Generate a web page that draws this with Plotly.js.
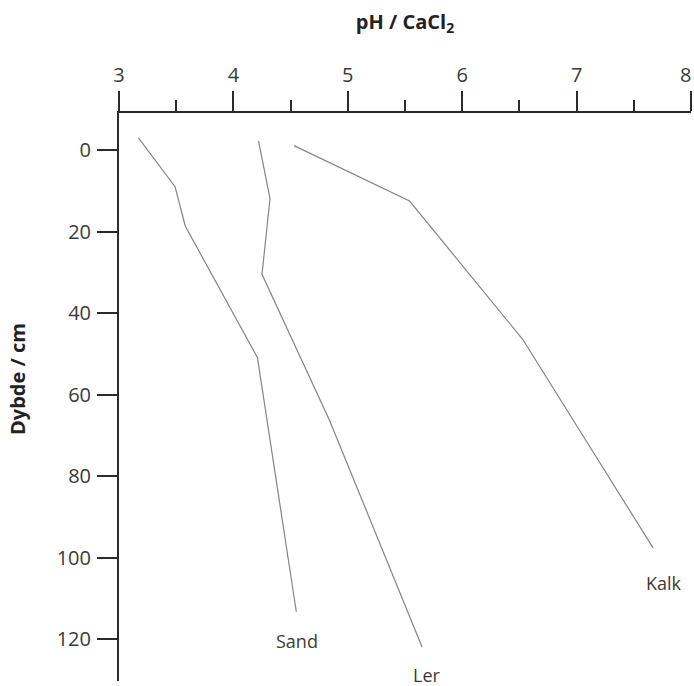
<!DOCTYPE html>
<html>
<head>
<meta charset="utf-8">
<script src="https://cdn.plot.ly/plotly-3.0.1.min.js"></script>
<style>html,body{margin:0;padding:0;background:#fff;}#chart{width:694px;height:686px;}</style>
</head>
<body>
<div id="chart"></div>
<script>
// Soil profiles: pH (CaCl2) versus depth (cm)
const sandPH    = [3.17, 3.49, 3.58, 4.21, 4.55];
const sandDepth = [-3.0, 9.0, 18.7, 50.9, 113.3];
const lerPH     = [4.22, 4.32, 4.25, 4.84, 5.65];
const lerDepth  = [-2.2, 11.9, 30.5, 66.3, 122.0];
const kalkPH    = [4.53, 5.54, 6.53, 7.67];
const kalkDepth = [-1.1, 12.5, 46.5, 97.7];
const seriesNames = ["Sand", "Ler", "Kalk"];
const labelPH    = [4.555, 5.69, 7.765];
const labelDepth = [120.5, 128.8, 106.3];
const xTicks = [3, 4, 5, 6, 7, 8];
const yTicks = [0, 20, 40, 60, 80, 100, 120];

const lineStyle = {color: '#858585', width: 1.2};
const data = [
  {x: sandPH, y: sandDepth, name: seriesNames[0], mode: 'lines', line: lineStyle},
  {x: lerPH, y: lerDepth, name: seriesNames[1], mode: 'lines', line: lineStyle},
  {x: kalkPH, y: kalkDepth, name: seriesNames[2], mode: 'lines', line: lineStyle}
];

const axisColor = '#2b2b2b';
const fam = '"Open Sans", "Noto Sans", sans-serif';
const tickFont = {family: fam, size: 20, color: '#3a3a3a'};

const annotations = seriesNames.map((n, i) => ({
  x: labelPH[i], y: labelDepth[i], xref: 'x', yref: 'y', text: n,
  showarrow: false, xanchor: 'center', yanchor: 'middle',
  font: {family: fam, size: 18, color: '#3a3a3a'}
}));
annotations.push({
  x: (18 - 119) / 572, y: 1 - (379 - 113) / 568, xref: 'paper', yref: 'paper',
  text: '<b>Dybde / cm</b>',
  showarrow: false, textangle: -90, xanchor: 'center', yanchor: 'middle',
  font: {family: fam, size: 20, color: '#222'}
});

// last label nudged inwards so it stays inside the page, as in the reference
const xTickText = xTicks.map((v, i) => i === xTicks.length - 1 ? String(v) + '\u00a0\u00a0' : String(v));

const layout = {
  width: 694, height: 686,
  margin: {l: 119, r: 3, t: 113, b: 5},
  paper_bgcolor: '#fff', plot_bgcolor: '#fff',
  showlegend: false,
  font: {family: fam, size: 16, color: '#333'},
  xaxis: {
    side: 'top', range: [3, 8], tickvals: xTicks, ticktext: xTickText,
    showgrid: false, zeroline: false,
    showline: true, linecolor: axisColor, linewidth: 2,
    ticks: 'outside', ticklen: 20, tickwidth: 2, tickcolor: axisColor,
    minor: {dtick: 0.5, ticks: 'outside', ticklen: 11, tickwidth: 2, tickcolor: axisColor, showgrid: false},
    tickfont: tickFont, ticklabelstandoff: 1, ticklabeloverflow: 'allow',
    title: {text: '<b>pH / CaCl<sub>2</sub></b>', font: {family: fam, size: 20, color: '#222'}, standoff: 26}
  },
  yaxis: {
    range: [130.3, -9.1], tickvals: yTicks, ticktext: yTicks.map(String),
    showgrid: false, zeroline: false,
    showline: true, linecolor: axisColor, linewidth: 2,
    ticks: 'outside', ticklen: 20, tickwidth: 2, tickcolor: axisColor,
    tickfont: tickFont, ticklabelstandoff: 2
  },
  annotations: annotations
};

Plotly.newPlot('chart', data, layout, {displayModeBar: false, staticPlot: true});
</script>
</body>
</html>
